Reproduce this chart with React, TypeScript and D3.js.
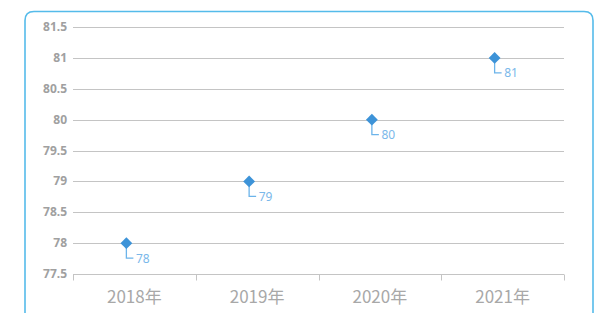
import React, { useEffect, useRef } from "react";
import * as d3 from "d3";

// chart data
const categories = ["2018年", "2019年", "2020年", "2021年"];
const values = [78, 79, 80, 81];
const yTicks = [77.5, 78, 78.5, 79, 79.5, 80, 80.5, 81, 81.5];

export default function App() {
  const ref = useRef<SVGSVGElement>(null);

  useEffect(() => {
    const width = 600,
      height = 313;
    const margin = { top: 27, right: 36, bottom: 39, left: 73 };

    const svg = d3.select(ref.current);
    svg.selectAll("*").remove();
    svg.attr("width", width).attr("height", height);

    // rounded frame, open at the bottom
    const fx = 25,
      fy = 11.5,
      fr = 9,
      fw = 568;
    svg
      .append("path")
      .attr(
        "d",
        `M${fx},${height + 2} V${fy + fr} Q${fx},${fy} ${fx + fr},${fy} H${fx + fw - fr} Q${fx + fw},${fy} ${fx + fw},${fy + fr} V${height + 2}`
      )
      .attr("fill", "none")
      .attr("stroke", "#55bbea")
      .attr("stroke-width", 1.6);

    const x = d3
      .scaleBand()
      .domain(categories)
      .range([margin.left, width - margin.right]);
    const y = d3
      .scaleLinear()
      .domain([77.5, 81.5])
      .range([height - margin.bottom, margin.top]);

    // gridlines
    svg
      .append("g")
      .selectAll("line")
      .data(yTicks.slice(1))
      .enter()
      .append("line")
      .attr("x1", margin.left)
      .attr("x2", width - margin.right)
      .attr("y1", (d) => Math.round(y(d)) + 0.5)
      .attr("y2", (d) => Math.round(y(d)) + 0.5)
      .attr("stroke", "#c4c4c4")
      .attr("stroke-width", 1);

    // y labels
    svg
      .append("g")
      .selectAll("text")
      .data(yTicks)
      .enter()
      .append("text")
      .attr("x", margin.left - 6)
      .attr("y", (d) => y(d) + 4)
      .attr("text-anchor", "end")
      .style("font-family", "'Noto Sans', sans-serif")
      .style("font-size", "12px")
      .style("font-weight", "bold")
      .style("fill", "#a0a0a0")
      .text((d) => String(d));

    // x axis
    const xAxis = svg
      .append("g")
      .attr("transform", `translate(0,${Math.round(y(77.5)) + 0.5})`);
    xAxis
      .append("line")
      .attr("x1", margin.left)
      .attr("x2", width - margin.right)
      .attr("stroke", "#c4c4c4");
    const bounds = categories.map((c) => x(c) as number).concat([width - margin.right]);
    xAxis
      .selectAll(".tick")
      .data(bounds)
      .enter()
      .append("line")
      .attr("x1", (d) => Math.round(d) + 0.5)
      .attr("x2", (d) => Math.round(d) + 0.5)
      .attr("y1", 0)
      .attr("y2", 6)
      .attr("stroke", "#c4c4c4");
    xAxis
      .selectAll("text")
      .data(categories)
      .enter()
      .append("text")
      .attr("x", (d) => (x(d) as number) + x.bandwidth() / 2)
      .attr("y", 28)
      .attr("text-anchor", "middle")
      .style("font-family", "'Noto Sans CJK SC', sans-serif")
      .style("font-size", "17px")
      .style("fill", "#a8a8a8")
      .text((d) => d);

    // points (drawn slightly left of band centre, as in the original)
    const px = (i: number) => (x(categories[i]) as number) + x.bandwidth() / 2 - 8;

    const pts = svg.append("g");
    values.forEach((v, i) => {
      const cx = px(i),
        cy = y(v);
      pts
        .append("path")
        .attr("d", `M${cx},${cy + 1} v14 h7`)
        .attr("fill", "none")
        .attr("stroke", "#6cb4ea")
        .attr("stroke-width", 1.3);
      pts
        .append("path")
        .attr("d", d3.symbol(d3.symbolSquare, 70)())
        .attr("transform", `translate(${cx},${cy}) rotate(45)`)
        .attr("fill", "#3d93d8");
      pts
        .append("text")
        .attr("x", cx + 9.5)
        .attr("y", cy + 19.5)
        .style("font-family", "'Noto Sans', sans-serif")
        .style("font-size", "12px")
        .style("fill", "#7ab8ea")
        .text(String(v));
    });
  }, []);

  return (
    <div style={{ position: "absolute", left: 0, top: 0 }}>
      <svg ref={ref} style={{ display: "block" }} />
    </div>
  );
}
